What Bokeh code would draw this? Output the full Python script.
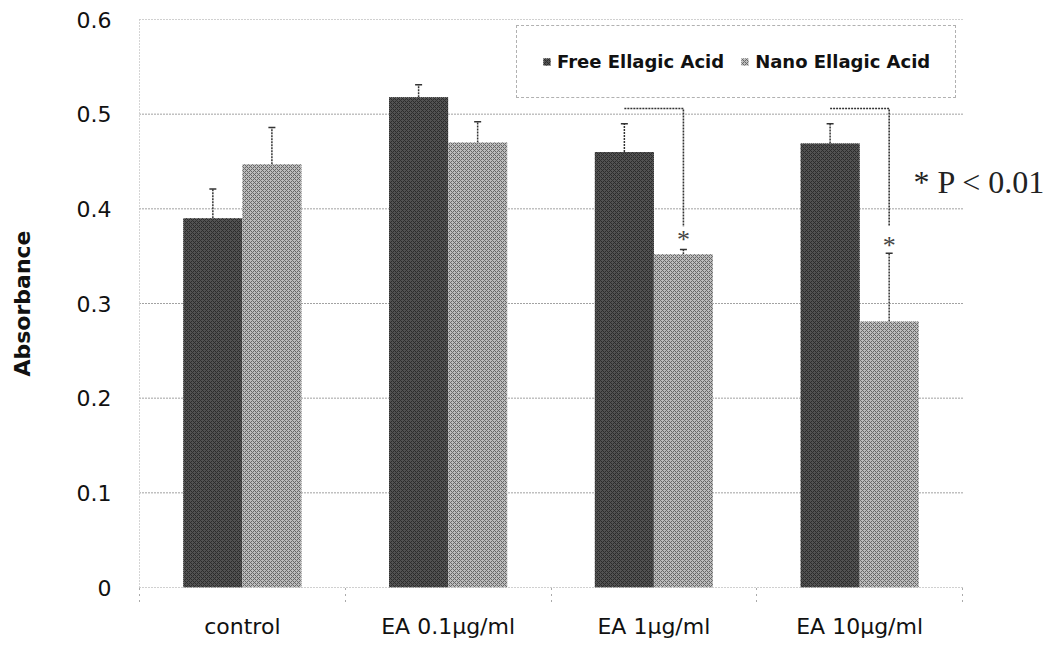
import numpy as np
from bokeh.plotting import figure
from bokeh.models import (Range1d, FixedTicker, Whisker, TeeHead, ColumnDataSource,
                          Label, Legend, LegendItem)
from bokeh.core.properties import value
from bokeh.embed import file_html
from bokeh.resources import INLINE

categories = ["control", "EA 0.1µg/ml", "EA 1µg/ml", "EA 10µg/ml"]
free_vals = [0.390, 0.518, 0.460, 0.469]
free_err = [0.031, 0.013, 0.030, 0.021]
nano_vals = [0.447, 0.470, 0.352, 0.281]
nano_err = [0.039, 0.022, 0.005, 0.072]
y_ticks = [0, 0.1, 0.2, 0.3, 0.4, 0.5, 0.6]
sig_groups = [2, 3]
sig_top = [0.506, 0.506]
sig_bottom = [0.381, 0.382]
star_y = [0.368, 0.361]

n = len(categories)
centers = np.arange(n) + 0.5
bw = 0.287
free_x = centers - bw / 2
nano_x = centers + bw / 2

p = figure(width=1051, height=646, output_backend="svg", toolbar_location=None,
           x_range=Range1d(0, 4.4325), y_range=Range1d(0, 0.6),
           min_border_left=139, min_border_right=0, min_border_top=19, min_border_bottom=59)
p.outline_line_color = None
p.background_fill_color = "white"
p.border_fill_color = "white"

# gridlines (stop at the end of the category axis)
p.segment(x0=0, x1=n, y0=y_ticks, y1=y_ticks, line_color="#444444", line_dash="1 2", line_width=1)

src_f = ColumnDataSource(dict(x=free_x, top=free_vals, up=np.array(free_vals) + np.array(free_err)))
src_n = ColumnDataSource(dict(x=nano_x, top=nano_vals, up=np.array(nano_vals) + np.array(nano_err)))

rf = p.vbar(x="x", top="top", width=bw, source=src_f, fill_color="#525252", line_color=None,
            hatch_pattern="x", hatch_color="#2b2b2b", hatch_scale=4, hatch_weight=1)
rn = p.vbar(x="x", top="top", width=bw, source=src_n, fill_color="#bcbcbc", line_color=None,
            hatch_pattern="x", hatch_color="#666666", hatch_scale=4, hatch_weight=1)

for src in (src_f, src_n):
    w = Whisker(base="x", lower="top", upper="up", source=src,
                line_color="#333333", line_width=1.5, line_dash="2 1",
                upper_head=TeeHead(size=7, line_color="#333333", line_width=1.5),
                lower_head=None)
    p.add_layout(w)

# significance brackets
for g, t, b in zip(sig_groups, sig_top, sig_bottom):
    p.line(x=[free_x[g], nano_x[g], nano_x[g]], y=[t, t, b], line_color="#333333",
           line_width=1.6, line_dash="2 1")
star_src = ColumnDataSource(dict(x=[nano_x[g] for g in sig_groups], y=star_y,
                                 t=["*"] * len(sig_groups)))
p.text(x="x", y="y", text="t", source=star_src, text_align="center", text_baseline="middle",
       text_font=value("Liberation Serif"), text_font_size="26px", text_color="#444444")

p.add_layout(Label(x=3.762, y=0.428, text="* P < 0.01", text_font="Liberation Serif",
                   text_font_size="32px", text_color="#222222", text_baseline="alphabetic"))

# axes
p.yaxis.ticker = FixedTicker(ticks=y_ticks)
p.yaxis.major_label_overrides = {0: "0"}
p.yaxis.major_tick_line_color = None
p.yaxis.minor_tick_line_color = None
p.yaxis.axis_line_color = "#aaaaaa"
p.yaxis.axis_line_dash = "1 2"
p.yaxis.major_label_text_font = "DejaVu Sans"
p.yaxis.major_label_text_font_size = "22px"
p.yaxis.major_label_text_color = "#111111"
p.yaxis.major_label_standoff = 22
p.yaxis.axis_label = "Absorbance"
p.yaxis.axis_label_text_font = "DejaVu Sans"
p.yaxis.axis_label_text_font_style = "bold"
p.yaxis.axis_label_text_font_size = "22px"
p.yaxis.axis_label_text_color = "#111111"
p.yaxis.axis_label_standoff = 39

p.xaxis.ticker = FixedTicker(ticks=list(centers), minor_ticks=list(range(n + 1)))
p.xaxis.major_label_overrides = {float(c): cat for c, cat in zip(centers, categories)}
p.xaxis.major_tick_line_color = None
p.xaxis.minor_tick_in = 0
p.xaxis.minor_tick_out = 14
p.xaxis.minor_tick_line_color = "#555555"
p.xaxis.minor_tick_line_dash = "1 5"
p.xaxis.axis_line_color = None
p.xaxis.major_label_text_font = "DejaVu Sans"
p.xaxis.major_label_text_font_size = "22px"
p.xaxis.major_label_text_color = "#111111"
p.xaxis.major_label_standoff = 12

p.xgrid.grid_line_color = None
p.ygrid.grid_line_color = None

legend = Legend(items=[LegendItem(label="Free Ellagic Acid", renderers=[rf]),
                       LegendItem(label="Nano Ellagic Acid", renderers=[rn])],
                orientation="horizontal", location=(377, 489),
                glyph_width=9, glyph_height=9, label_standoff=6, spacing=16,
                padding=25, margin=0, label_height=18,
                label_text_font="DejaVu Sans", label_text_font_style="bold",
                label_text_font_size="18px", label_text_color="#111111",
                border_line_color="#666666", border_line_dash="1 2", border_line_width=1,
                background_fill_color="white", background_fill_alpha=1)
p.add_layout(legend)

open("out.html", "w").write(file_html(p, INLINE))
